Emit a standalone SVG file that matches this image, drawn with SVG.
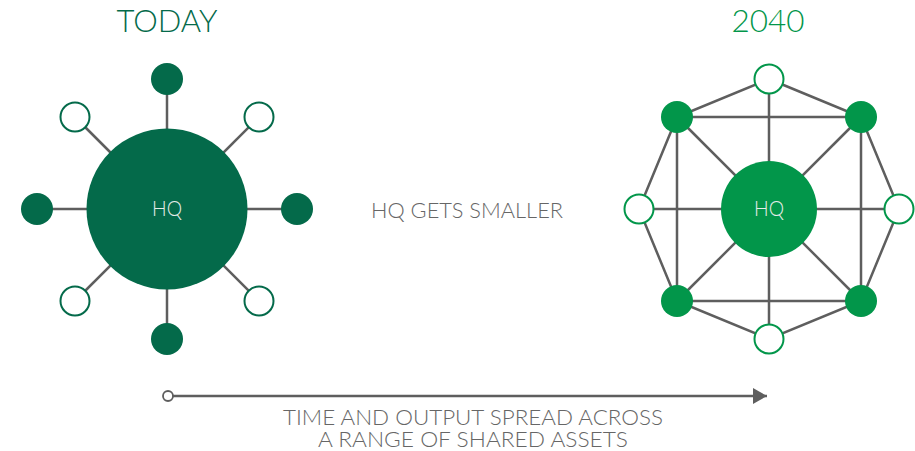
<svg xmlns="http://www.w3.org/2000/svg" width="915" height="451" viewBox="0 0 915 451">
  <defs>
    <style>
      .title { font-family: Lato, "Open Sans", "Liberation Sans", sans-serif; font-size: 31px; font-weight: 300; text-anchor: middle; }
      .hq { font-family: Lato, "Open Sans", "Liberation Sans", sans-serif; font-size: 21px; font-weight: 300; fill: #e6ece9; text-anchor: middle; }
      .caption { font-family: Lato, "Open Sans", "Liberation Sans", sans-serif; font-size: 22px; font-weight: 300; fill: #666666; text-anchor: middle; }
      .caption.small { font-size: 21px; }
      .link { stroke: #5e5e5e; stroke-width: 2.5; fill: none; }
      .dark { fill: #046a4a; }
      .dark-open { fill: #ffffff; stroke: #046a4a; stroke-width: 2; }
      .bright { fill: #02964a; }
      .bright-open { fill: #ffffff; stroke: #02964a; stroke-width: 2; }
    </style>
    <marker id="arrowhead" viewBox="0 0 14 16" refX="14" refY="8" markerWidth="14" markerHeight="16" markerUnits="userSpaceOnUse" orient="auto">
      <path d="M0,0 L14,8 L0,16 Z" fill="#5e5e5e"/>
    </marker>
  </defs>

  <rect width="915" height="451" fill="#ffffff"/>

  <!-- headings -->
  <text class="title" x="167" y="32" fill="#046a4a" textLength="101" lengthAdjust="spacingAndGlyphs">TODAY</text>
  <text class="title" x="768" y="32" fill="#02964a" textLength="73" lengthAdjust="spacingAndGlyphs">2040</text>

  <!-- hub-and-spoke: connectors -->
  <g id="today-connectors">
    <line class="link" x1="167" y1="209" x2="167" y2="79"/>
    <line class="link" x1="167" y1="209" x2="167" y2="339"/>
    <line class="link" x1="167" y1="209" x2="37" y2="209"/>
    <line class="link" x1="167" y1="209" x2="297" y2="209"/>
    <line class="link" x1="167" y1="209" x2="75" y2="117"/>
    <line class="link" x1="167" y1="209" x2="259" y2="117"/>
    <line class="link" x1="167" y1="209" x2="75" y2="301"/>
    <line class="link" x1="167" y1="209" x2="259" y2="301"/>
  </g>

  <!-- hub-and-spoke: nodes -->
  <g id="today-hq">
    <circle class="dark" cx="167" cy="209" r="80.5"/>
    <text class="hq" x="167" y="215.5" textLength="30" lengthAdjust="spacingAndGlyphs">HQ</text>
  </g>
  <g id="today-n"><circle class="dark" cx="167" cy="79" r="16"/></g>
  <g id="today-s"><circle class="dark" cx="167" cy="339" r="16"/></g>
  <g id="today-w"><circle class="dark" cx="37" cy="209" r="16"/></g>
  <g id="today-e"><circle class="dark" cx="297" cy="209" r="16"/></g>
  <g id="today-nw"><circle class="dark-open" cx="75" cy="117" r="14.5"/></g>
  <g id="today-ne"><circle class="dark-open" cx="259" cy="117" r="14.5"/></g>
  <g id="today-sw"><circle class="dark-open" cx="75" cy="301" r="14.5"/></g>
  <g id="today-se"><circle class="dark-open" cx="259" cy="301" r="14.5"/></g>

  <text id="middle-label" class="caption" x="467" y="218" textLength="192" lengthAdjust="spacingAndGlyphs">HQ GETS SMALLER</text>

  <!-- mesh: connectors -->
  <g id="mesh-connectors">
    <!-- outer ring -->
    <polygon class="link" points="769,79 861,117 899,209 861,301 769,339 677,301 639,209 677,117"/>
    <!-- inner square -->
    <rect class="link" x="677" y="117" width="184" height="184"/>
    <!-- through the hub -->
    <line class="link" x1="769" y1="79" x2="769" y2="339"/>
    <line class="link" x1="639" y1="209" x2="899" y2="209"/>
    <line class="link" x1="677" y1="117" x2="861" y2="301"/>
    <line class="link" x1="861" y1="117" x2="677" y2="301"/>
  </g>

  <!-- mesh: nodes -->
  <g id="future-hq">
    <circle class="bright" cx="769" cy="209" r="48"/>
    <text class="hq" x="769" y="215.5" textLength="30" lengthAdjust="spacingAndGlyphs">HQ</text>
  </g>
  <g id="future-nw"><circle class="bright" cx="677" cy="117" r="16"/></g>
  <g id="future-ne"><circle class="bright" cx="861" cy="117" r="16"/></g>
  <g id="future-sw"><circle class="bright" cx="677" cy="301" r="16"/></g>
  <g id="future-se"><circle class="bright" cx="861" cy="301" r="16"/></g>
  <g id="future-n"><circle class="bright-open" cx="769" cy="79" r="14.5"/></g>
  <g id="future-s"><circle class="bright-open" cx="769" cy="339" r="14.5"/></g>
  <g id="future-w"><circle class="bright-open" cx="639" cy="209" r="14.5"/></g>
  <g id="future-e"><circle class="bright-open" cx="899" cy="209" r="14.5"/></g>

  <!-- timeline -->
  <g id="timeline">
    <line x1="172.5" y1="396" x2="767" y2="396" stroke="#5e5e5e" stroke-width="2.5" marker-end="url(#arrowhead)"/>
    <circle cx="168" cy="396" r="5" fill="#ffffff" stroke="#5e5e5e" stroke-width="1.8"/>
  </g>
  <text class="caption small" x="473" y="425" textLength="380" lengthAdjust="spacingAndGlyphs">TIME AND OUTPUT SPREAD ACROSS</text>
  <text class="caption small" x="473" y="447" textLength="310" lengthAdjust="spacingAndGlyphs">A RANGE OF SHARED ASSETS</text>
</svg>
